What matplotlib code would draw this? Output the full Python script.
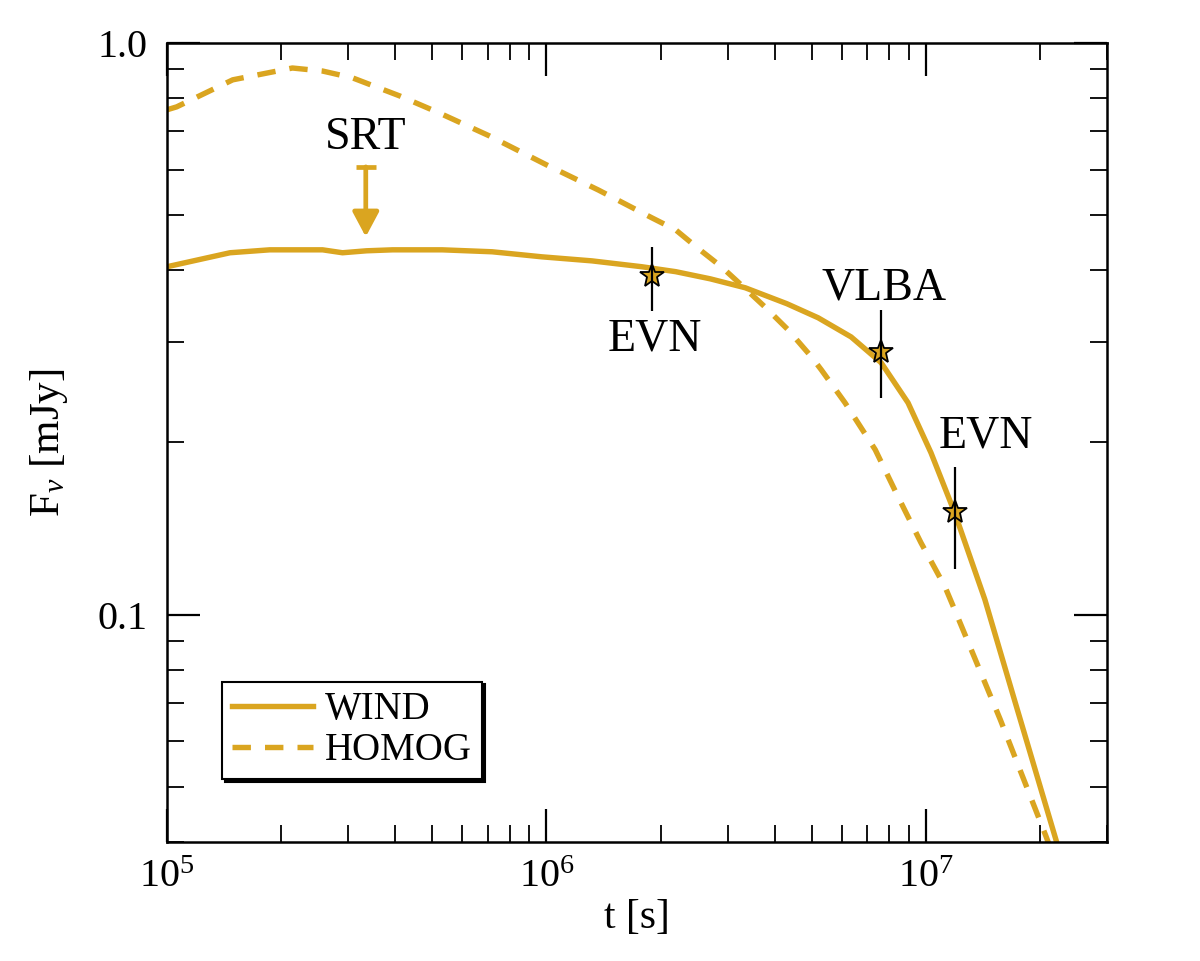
import matplotlib
matplotlib.use("Agg")
import matplotlib.pyplot as plt
from matplotlib.ticker import FixedLocator, NullFormatter, LogLocator

plt.rcParams['font.family'] = ['Liberation Serif', 'DejaVu Serif']
plt.rcParams['mathtext.fontset'] = 'custom'
plt.rcParams['mathtext.rm'] = 'Liberation Serif'
plt.rcParams['mathtext.it'] = 'Liberation Serif:italic'

gold = '#DAA520'

# WIND model (solid)
wind_t = [1e5, 1.465e5, 1.865e5, 2.236e5, 2.57e5, 2.9e5, 3.355e5, 3.93e5, 5.31e5,
          7.19e5, 9.73e5, 1.317e6, 1.782e6, 2.19e6, 2.7e6, 3.34e6, 4.3e6, 5.2e6,
          6.35e6, 7.62e6, 8.97e6, 1.031e7, 1.19e7, 1.43e7, 1.71e7, 2.2e7, 2.4e7]
wind_f = [0.406, 0.4295, 0.4346, 0.4346, 0.4346, 0.4295, 0.4329, 0.4346, 0.4346,
          0.4312, 0.4225, 0.4157, 0.406, 0.398, 0.3867, 0.373, 0.3498, 0.3305,
          0.306, 0.2758, 0.2347, 0.1919, 0.1508, 0.1062, 0.071, 0.0404, 0.0332]

# HOMOG model (dashed)
homog_t = [1e5, 1.06e5, 1.49e5, 2.14e5, 2.57e5, 3.08e5, 4.1e5, 5.2e5, 7.06e5, 1e6,
           1.37e6, 1.9e6, 2.19e6, 2.5e6, 2.89e6, 3.3e6, 3.77e6, 4.33e6, 4.99e6,
           5.3e6, 6.12e6, 7.35e6, 8.44e6, 9.7e6, 1.122e7, 1.19e7, 1.57e7, 2.07e7, 2.3e7]
homog_f = [0.764, 0.773, 0.862, 0.904, 0.893, 0.869, 0.808, 0.755, 0.688, 0.612,
           0.553, 0.494, 0.471, 0.438, 0.406, 0.3745, 0.345, 0.315, 0.2825,
           0.268, 0.2347, 0.1943, 0.1608, 0.1336, 0.1119, 0.102, 0.0655, 0.041, 0.034]

# observations
obs_t = [1.9e6, 7.62e6, 1.19e7]
obs_f = [0.391, 0.288, 0.151]
obs_lo = [0.339, 0.239, 0.120]
obs_hi = [0.440, 0.341, 0.181]

# SRT upper limit
srt_t = 3.34e5
srt_f = 0.607
srt_tip = 0.458

fig = plt.figure(figsize=(12, 9.61), dpi=100)
ax = fig.add_axes([0.1392, 0.1238, 0.7833, 0.8315])

ax.plot(wind_t, wind_f, color=gold, lw=3.9, label='WIND', zorder=2)
ax.plot(homog_t, homog_f, color=gold, lw=3.9, ls=(0, (3.4, 2.6)), label='HOMOG', zorder=2)

ax.plot(obs_t, obs_f, ls='none', marker='*', ms=18, mfc=gold, mec='black', mew=1.3, zorder=3)
yerr = [[f - lo for f, lo in zip(obs_f, obs_lo)], [hi - f for f, hi in zip(obs_f, obs_hi)]]
ax.errorbar(obs_t, obs_f, yerr=yerr, fmt='none', ecolor='black', elinewidth=1.6, capsize=0, zorder=4)

# SRT limit arrow
ax.plot([srt_t], [srt_f], marker='_', ms=15, mew=3.4, color=gold, zorder=3)
ax.annotate('', xy=(srt_t, srt_tip), xytext=(srt_t, srt_f),
            arrowprops=dict(arrowstyle='-|>,head_length=0.75,head_width=0.4',
                            color=gold, lw=3.4, shrinkA=0, shrinkB=0, mutation_scale=20),
            zorder=3)

fs_ann = 33
ax.text(srt_t, 0.682, 'SRT', fontsize=fs_ann, ha='center', va='center')
ax.text(1.93e6, 0.303, 'EVN', fontsize=fs_ann, ha='center', va='center')
ax.text(7.76e6, 0.373, 'VLBA', fontsize=fs_ann, ha='center', va='center')
ax.text(1.44e7, 0.205, 'EVN', fontsize=fs_ann, ha='center', va='center')

ax.set_xscale('log')
ax.set_yscale('log')
ax.set_xlim(1e5, 3e7)
ax.set_ylim(0.04, 1.0)

ax.yaxis.set_major_locator(FixedLocator([0.1, 1.0]))
ax.set_yticklabels(['0.1', '1.0'])
ax.yaxis.set_minor_locator(FixedLocator([0.04, 0.05, 0.06, 0.07, 0.08, 0.09,
                                         0.2, 0.3, 0.4, 0.5, 0.6, 0.7, 0.8, 0.9]))
ax.yaxis.set_minor_formatter(NullFormatter())
ax.xaxis.set_major_locator(LogLocator(base=10))
ax.xaxis.set_minor_locator(LogLocator(base=10, subs=range(2, 10)))
ax.xaxis.set_minor_formatter(NullFormatter())

ax.tick_params(which='both', direction='in', top=True, right=True, labelsize=29)
ax.tick_params(which='major', length=24, width=1.6)
ax.tick_params(which='minor', length=12, width=1.3)
ax.tick_params(axis='x', which='major', pad=12)
ax.tick_params(axis='y', which='major', pad=14)
for s in ax.spines.values():
    s.set_linewidth(1.8)

ax.set_xlabel('t [s]', fontsize=30, labelpad=2)
ax.set_ylabel(r'F$_\nu$ [mJy]', fontsize=31, labelpad=20)

leg = ax.legend(loc='lower left', bbox_to_anchor=(0.0585, 0.079), borderaxespad=0,
                fontsize=28, fancybox=False, shadow={'color': 'black', 'alpha': 1},
                framealpha=1, handlelength=2.1, handletextpad=0.3, borderpad=0.25,
                labelspacing=0.1)
leg.get_frame().set_edgecolor('black')
leg.get_frame().set_linewidth(1.5)

fig.savefig('out.png', dpi=100)
